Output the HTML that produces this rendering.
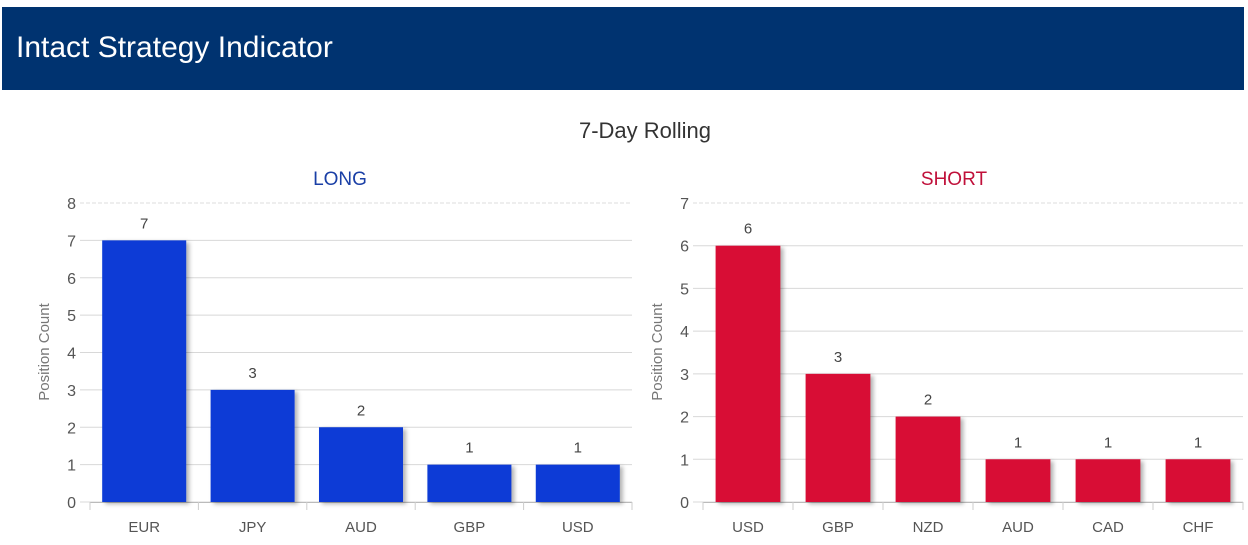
<!DOCTYPE html>
<html><head><meta charset="utf-8"><style>
body{margin:0;width:1248px;height:545px;background:#fff;font-family:"Liberation Sans","DejaVu Sans",sans-serif;overflow:hidden;position:relative}
#hdr{position:absolute;left:2px;top:7px;width:1242px;height:83px;background:#003370}
#hdr span{position:absolute;left:14px;top:24px;color:#fff;font-size:30px}
svg{position:absolute;left:0;top:0}
</style></head><body>
<div id="hdr"><span>Intact Strategy Indicator</span></div>
<svg id="c" width="1248" height="545">
<defs><filter id="sh" x="-10%" y="-10%" width="130%" height="130%"><feDropShadow dx="3" dy="2" stdDeviation="2" flood-color="#000" flood-opacity="0.3"/></filter></defs>
<text x="645" y="138" text-anchor="middle" font-size="22" fill="#333">7-Day Rolling</text>
</svg>
<script>
const longCats=["EUR","JPY","AUD","GBP","USD"];
const longVals=[7,3,2,1,1];
const longTicks=[0,1,2,3,4,5,6,7,8];
const shortCats=["USD","GBP","NZD","AUD","CAD","CHF"];
const shortVals=[6,3,2,1,1,1];
const shortTicks=[0,1,2,3,4,5,6,7];
const svg=document.getElementById('c');const NS='http://www.w3.org/2000/svg';
function mk(t,a,txt){const e=document.createElementNS(NS,t);for(const k in a)e.setAttribute(k,a[k]);if(txt!==undefined)e.textContent=txt;svg.appendChild(e);return e;}
function chart(o){
 const y0=502,y1=203,max=o.ticks[o.ticks.length-1];
 const ys=v=>y0-(y0-y1)*v/max;
 const cw=(o.x1-o.x0)/o.cats.length;
 let t=mk('text',{x:o.tx,y:185,'text-anchor':'middle','font-size':19,fill:o.tcol},o.title);
 
 o.ticks.forEach(v=>{const y=ys(v);
  let g=mk('line',{x1:o.x0-10,x2:o.x1,y1:y,y2:y,stroke:v==max?'#ddd':'#d8d8d8','stroke-dasharray':v==max?'4,2':'none'});
  
  let l=mk('text',{x:o.x0-14,y:y+6,'text-anchor':'end','font-size':16,fill:'#555'},v);
  });
 mk('line',{x1:o.x0,x2:o.x1,y1:y0+0.5,y2:y0+0.5,stroke:'#bbb'});
 o.cats.forEach((c,i)=>{const cx=o.x0+cw*(i+0.5),bw=cw*o.bf,v=o.vals[i];
  let r=mk('rect',{x:cx-bw/2,y:ys(v),width:bw,height:y0-ys(v),fill:o.col,filter:'url(#sh)'});
  
  let vl=mk('text',{x:cx,y:ys(v)-12,'text-anchor':'middle','font-size':15,fill:'#444'},v);
  
  let xl=mk('text',{x:cx,y:532,'text-anchor':'middle','font-size':15,fill:'#555'},c);
  
  mk('line',{x1:o.x0+cw*i,x2:o.x0+cw*i,y1:y0,y2:y0+8,stroke:'#ccc'});});
 mk('line',{x1:o.x1,x2:o.x1,y1:y0,y2:y0+8,stroke:'#ccc'});
 let at=mk('text',{x:0,y:0,'text-anchor':'middle','font-size':15,fill:'#777',transform:'translate('+o.ax+',352) rotate(-90)'},'Position Count');
 
}
chart({id:'long',title:'LONG',tx:340,tcol:'#1a3fa6',col:'#0a3bd6',cats:longCats,vals:longVals,ticks:longTicks,x0:90,x1:632,bf:0.775,ax:49});
chart({id:'short',title:'SHORT',tx:954,tcol:'#c0103a',col:'#d80c36',cats:shortCats,vals:shortVals,ticks:shortTicks,x0:703,x1:1243,bf:0.72,ax:662});
</script>
</body></html>
